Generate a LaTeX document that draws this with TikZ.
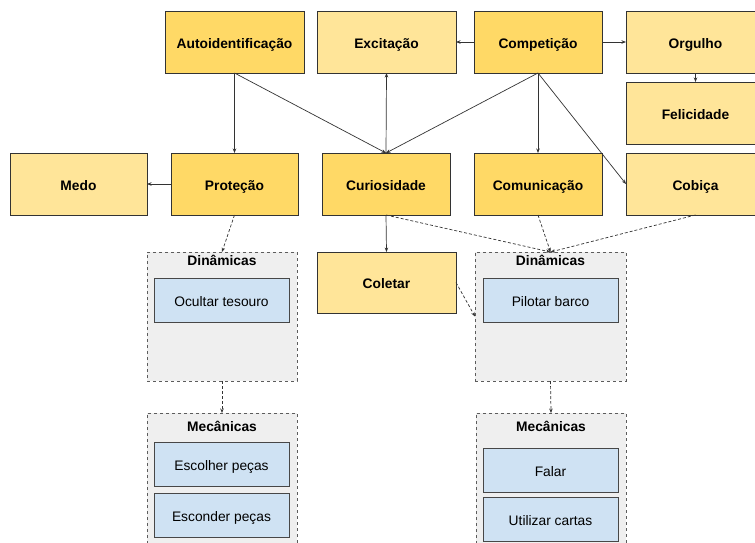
\documentclass[tikz,border=0pt]{standalone}
\usepackage{fontspec}
\setmainfont{Liberation Sans}
\usetikzlibrary{arrows.meta}
\definecolor{ydark}{HTML}{FFD966}
\definecolor{ylight}{HTML}{FFE599}
\definecolor{gbox}{HTML}{EFEFEF}
\definecolor{bbox}{HTML}{CFE2F3}
\definecolor{edge}{HTML}{333333}
\begin{document}
\begin{tikzpicture}[x=1pt,y=-1pt,
  every node/.style={inner sep=0pt,outer sep=0pt,text height=12pt,text depth=0pt,font=\fontsize{13.8}{16}\selectfont},
  emo/.style={draw=edge,line width=0.9pt,minimum height=62pt,font=\fontsize{13.8}{16}\selectfont\bfseries},
  dk/.style={emo,fill=ydark},
  lt/.style={emo,fill=ylight},
  grp/.style={draw=edge!80,dashed,line width=0.7pt,fill=gbox},
  item/.style={draw=edge!90,line width=0.8pt,fill=bbox,minimum width=135pt,minimum height=44pt},
  ttl/.style={font=\fontsize{13.8}{16}\selectfont\bfseries},
  con/.style={draw=edge,line width=0.7pt,-{Stealth[length=4.5pt,width=3.5pt]}},
  dcon/.style={con,dashed,dash pattern=on 3pt off 2pt}]
\clip (0,0) rectangle (755,542);
\fill[white] (0,0) rectangle (755,542);
% top row
\node[dk,minimum width=139pt] (auto) at (234.5,42) {Autoidentificação};
\node[lt,minimum width=139pt] (exc) at (386.5,42) {Excitação};
\node[dk,minimum width=128pt] (comp) at (538,42) {Competição};
\node[lt,minimum width=139pt] (org) at (695.5,42) {Orgulho};
\node[lt,minimum width=139pt] (fel) at (695.5,113) {Felicidade};
% second row
\node[lt,minimum width=137pt] (medo) at (78.5,184) {Medo};
\node[dk,minimum width=127pt] (prot) at (234.5,184) {Proteção};
\node[dk,minimum width=128pt] (cur) at (386,184) {Curiosidade};
\node[dk,minimum width=128pt] (com) at (538,184) {Comunicação};
\node[lt,minimum width=139pt] (cob) at (695.5,184) {Cobiça};
\node[lt,minimum width=139pt,minimum height=61pt] (col) at (386.5,282.5) {Coletar};
% groups
\node[grp,minimum width=150pt,minimum height=129pt] (dinl) at (222,316.5) {};
\node[ttl] (dinlt) at (222,259.5) {Dinâmicas};
\node[item] (ocu) at (221.5,300) {Ocultar tesouro};
\node[grp,minimum width=151pt,minimum height=129pt] (dinr) at (550.5,316.5) {};
\node[ttl] (dinrt) at (550.5,259.5) {Dinâmicas};
\node[item] (pil) at (550.5,300) {Pilotar barco};
\node[grp,minimum width=150pt,minimum height=160pt] (mecl) at (222,493) {};
\node[ttl] (meclt) at (222,425) {Mecânicas};
\node[item] (esc) at (221.5,464) {Escolher peças};
\node[item] (esd) at (221.5,515) {Esconder peças};
\node[grp,minimum width=150pt,minimum height=160pt] (mecr) at (551,493) {};
\node[ttl] (mecrt) at (551,425) {Mecânicas};
\node[item] (fal) at (550.5,470) {Falar};
\node[item] (uti) at (550.5,519) {Utilizar cartas};
% solid connectors
\draw[con] (auto.south) -- (prot.north);
\draw[con] (auto.south) -- (cur.north);
\draw[con] (cur.north) -- (exc.south);
\draw[con] (comp.west) -- (exc.east);
\draw[con] (comp.east) -- (org.west);
\draw[con] (org.south) -- (fel.north);
\draw[con] (comp.south) -- (cur.north);
\draw[con] (comp.south) -- (com.north);
\draw[con] (comp.south) -- (cob.west);
\draw[con] (prot.west) -- (medo.east);
\draw[con] (cur.south) -- (col.north);
% dashed connectors
\draw[dcon] (prot.south) -- (dinl.north);
\draw[dcon] (cur.south) -- (dinr.north);
\draw[dcon] (com.south) -- (dinr.north);
\draw[dcon] (cob.south) -- (dinr.north);
\draw[dcon] (col.east) -- (dinr.west);
\draw[dcon] (dinl.south) -- (mecl.north);
\draw[dcon] (dinr.south) -- (mecr.north);
\end{tikzpicture}
\end{document}
